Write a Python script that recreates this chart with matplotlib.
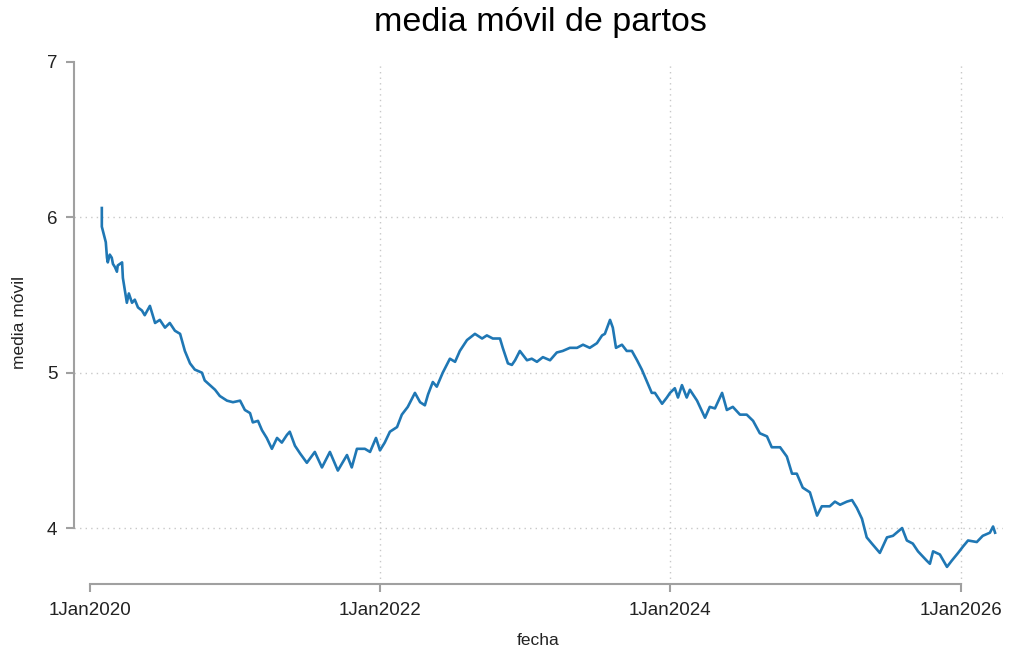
import pandas as pd
import matplotlib
matplotlib.use("Agg")
from matplotlib import pyplot as plt
import matplotlib.dates as mdates

# days since 1Jan2020 and the moving average
dias = [30, 30, 40, 43, 45, 50, 55, 58, 63, 68, 70, 81, 83, 88, 93, 98, 106, 113, 121, 131,
        138, 151, 164, 176, 189, 201, 214, 227, 239, 252, 264, 282, 289, 302, 315, 327, 345, 360,
        378, 390, 403, 410, 423, 433, 445, 458, 471, 483, 496, 503, 516, 529, 546, 566, 584, 604,
        624, 647, 659, 672, 692, 705, 720, 730, 742, 755, 773, 785, 800, 818, 831, 843, 851, 863,
        873, 888, 906, 919, 931, 949, 969, 987, 999, 1014, 1032, 1039, 1052, 1062, 1070, 1082,
        1100, 1112, 1125, 1140, 1158, 1175, 1190, 1208, 1226, 1241, 1258, 1276, 1289, 1296, 1309,
        1316, 1324, 1339, 1351, 1364, 1377, 1389, 1404, 1414, 1422, 1440, 1452, 1460, 1472, 1480,
        1490, 1502, 1510, 1528, 1548, 1560, 1573, 1591, 1603, 1618, 1636, 1653, 1669, 1686, 1704,
        1716, 1737, 1754, 1767, 1779, 1794, 1812, 1830, 1842, 1862, 1875, 1888, 1905, 1918, 1930,
        1943, 1955, 1968, 1988, 2006, 2021, 2044, 2056, 2071, 2084, 2106, 2114, 2122, 2139, 2157,
        2169, 2185, 2197, 2210, 2232, 2247, 2265, 2273, 2278]
media = [6.06, 5.94, 5.84, 5.74, 5.71, 5.76, 5.74, 5.70, 5.68, 5.65, 5.69, 5.71, 5.61, 5.53, 5.45,
         5.51, 5.45, 5.47, 5.42, 5.40, 5.37, 5.43, 5.32, 5.34, 5.29, 5.32, 5.27, 5.25, 5.14, 5.06,
         5.02, 5.00, 4.95, 4.92, 4.89, 4.85, 4.82, 4.81, 4.82, 4.76, 4.74, 4.68, 4.69, 4.63, 4.58,
         4.51, 4.58, 4.55, 4.60, 4.62, 4.53, 4.48, 4.42, 4.49, 4.39, 4.49, 4.37, 4.47, 4.39, 4.51,
         4.51, 4.49, 4.58, 4.50, 4.55, 4.62, 4.65, 4.73, 4.78, 4.87, 4.81, 4.79, 4.86, 4.94, 4.91,
         5.00, 5.09, 5.07, 5.14, 5.21, 5.25, 5.22, 5.24, 5.22, 5.22, 5.16, 5.06, 5.05, 5.08, 5.14,
         5.08, 5.09, 5.07, 5.10, 5.08, 5.13, 5.14, 5.16, 5.16, 5.18, 5.16, 5.19, 5.24, 5.25, 5.34,
         5.29, 5.16, 5.18, 5.14, 5.14, 5.08, 5.02, 4.93, 4.87, 4.87, 4.80, 4.84, 4.87, 4.90, 4.84,
         4.92, 4.84, 4.89, 4.82, 4.71, 4.78, 4.77, 4.87, 4.76, 4.78, 4.73, 4.73, 4.69, 4.61, 4.59,
         4.52, 4.52, 4.46, 4.35, 4.35, 4.26, 4.23, 4.08, 4.14, 4.14, 4.17, 4.15, 4.17, 4.18, 4.13,
         4.06, 3.94, 3.90, 3.84, 3.94, 3.95, 4.00, 3.92, 3.90, 3.85, 3.79, 3.77, 3.85, 3.83, 3.75,
         3.79, 3.84, 3.88, 3.92, 3.91, 3.95, 3.97, 4.01, 3.97]

xticks = ["2020-01-01", "2022-01-01", "2024-01-01", "2026-01-01"]
xtick_labels = ["1Jan2020", "1Jan2022", "1Jan2024", "1Jan2026"]
yticks = [4, 5, 6, 7]

inicio = pd.Timestamp("2020-01-01")
fechas = [inicio + pd.Timedelta(days=d) for d in dias]
xt = [mdates.date2num(pd.Timestamp(t)) for t in xticks]

plt.rcParams["font.family"] = ["Liberation Sans", "DejaVu Sans"]

fig = plt.figure(figsize=(10.11, 6.53), dpi=100)
ax = fig.add_axes([0.0732, 0.1057, 0.9189, 0.7994])

gris = "#a0a0a0"
for y in [4, 5, 6]:
    ax.axhline(y, color="#c8c8c8", lw=1.0, ls=(0, (1, 3)), zorder=0)
for t in xt[1:]:
    ax.axvline(t, color="#c8c8c8", lw=1.0, ls=(0, (1, 3)), zorder=0)

ax.plot(mdates.date2num(fechas), media, color="#1f77b4", lw=1.9)

ax.set_xlim(xt[0] - 40, xt[0] + 2298)
ax.set_ylim(3.64, 7.0)

ax.set_xticks(xt)
ax.set_xticklabels(xtick_labels)
ax.set_yticks(yticks)
ax.set_yticklabels([str(v) for v in yticks])

for s in ["top", "right"]:
    ax.spines[s].set_visible(False)
ax.spines["left"].set_bounds(4, 7)
ax.spines["bottom"].set_bounds(xt[0], xt[-1])
ax.spines["left"].set_color(gris)
ax.spines["bottom"].set_color(gris)
ax.spines["left"].set_linewidth(1.5)
ax.spines["bottom"].set_linewidth(1.5)
ax.tick_params(colors=gris, labelcolor="#222222", width=1.5, length=6, labelsize=13.5)
ax.tick_params(axis="x", pad=7)
ax.tick_params(axis="y", pad=6)

ax.set_xlabel("fecha", fontsize=12.5, color="#222222", labelpad=10)
ax.set_ylabel("media móvil", fontsize=12.5, color="#222222", labelpad=14)
fig.suptitle("media móvil de partos", fontsize=24.5, x=0.535, y=0.99)

fig.savefig("out.png", dpi=100)
